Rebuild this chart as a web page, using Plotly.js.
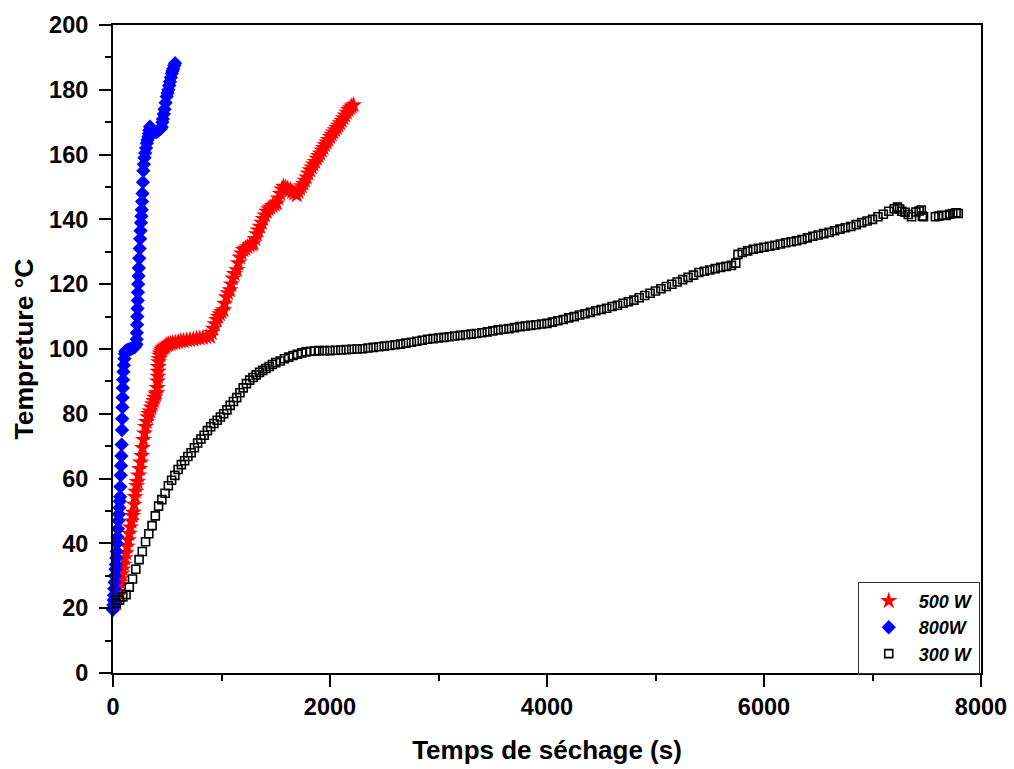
<!DOCTYPE html>
<html>
<head>
<meta charset="utf-8">
<script src="https://cdn.plot.ly/plotly-3.0.1.min.js"></script>
<style>html,body{margin:0;padding:0;background:#fff;}#chart{width:1014px;height:769px;}</style>
</head>
<body>
<div id="chart"></div>
<script>
// 500 W series
const t500 = [30,38,46,54,62,70,80,90,100,110,120,130,140,150,160,170,180,187,195,203,210,218,225,235,245,255,265,272,280,290,300,310,320,330,341,352,365,375,385,395,403,408,411,414,416,418,421,425,430,434,442,450,460,470,482,495,510,530,550,575,600,625,650,680,710,740,770,800,830,860,895,910,925,940,956,970,985,1000,1018,1030,1045,1060,1079,1090,1105,1120,1141,1155,1170,1185,1202,1220,1240,1260,1280,1295,1310,1325,1340,1356,1370,1385,1400,1418,1435,1450,1470,1490,1510,1525,1540,1555,1571,1590,1610,1633,1650,1670,1694,1710,1725,1740,1756,1770,1785,1800,1817,1833,1848,1863,1880,1895,1910,1925,1940,1955,1970,1985,2002,2017,2032,2048,2063,2078,2094,2110,2125,2140,2156,2171,2186,2200,2217];
const T500 = [21.5,23.5,25,26.5,28,29,30.5,32,33.5,35.5,37,39,41,43,45,46.8,48.5,49.5,52,54.4,56,57.8,59,61,63,65,67,69.5,72,74,76,77.5,79,80,80.8,82,83,84,85,86,86.5,88,90,91.5,93,94.5,96,97,98,98.7,99.3,99.8,100.2,100.5,100.8,101.2,101.4,101.6,101.8,102,102.2,102.4,102.5,102.7,102.8,103,103.2,103.3,103.5,103.7,103.8,105,106.3,107.7,109,110,110.8,111.5,112,114,116,117.3,118.2,120,121.8,123.2,124.4,126.5,128.3,129.5,130.6,131,131.5,132,132.3,132.6,134,135.5,136.6,137.8,139,140.2,141.3,142.4,143.2,143.7,144.2,144.6,145,146.5,148,149.3,150.1,149.8,149.5,149.1,148.5,148,147.5,148.5,149.5,150.3,151.1,152,153,154.2,155.2,156.1,157,157.8,158.8,159.6,160.4,161.3,162.1,163,163.8,164.6,165.5,166.2,166.9,167.6,168.3,169,169.7,170.5,171.3,172.1,173,173.8,174.4,174.9,175.3];

// 800 W series
const t800 = [0,3,6,9,12,15,18,22,26,30,34,38,42,46,50,54,58,62,65,68,71,74,77,80,83,85,87,89,91,93,96,100,105,110,115,120,130,140,150,160,170,180,190,200,208,215,218,220,222,224,226,228,230,232,235,238,242,246,250,254,258,262,265,268,272,276,280,285,290,297,305,312,318,326,331,335,341,350,360,370,380,390,400,410,420,430,440,449,455,460,468,475,485,495,503,510,518,525,533,541,548,555,565,572];
const T800 = [19.5,21,22.5,24,26,28,30,32,33.5,35.5,37.5,40,42,44.5,47,49,51,53,54.4,57.5,61,64,67,70.5,75,78.5,82,85,88,90.5,93,95,97,98.5,99.2,99.5,99.6,99.8,99.9,100,100.1,100.3,100.5,100.6,101,101.5,103,105,107.5,110,112.5,115,117.5,120,122.5,125,128,131,134,136.5,139,141,143,145.5,148,151.5,155,157,159,160.5,162,163.5,164.5,165.5,166.5,167.5,168.6,168,167.5,167.3,167,167,167,167.2,167.5,167.8,168,168.5,170,171,172.5,174,176,177.9,179,180,181.3,182.5,183.8,185,185.8,186.5,187.5,188.2];

// 300 W series
const t300 = [30,60,90,120,150,180,210,240,270,300,330,360,390,420,450,480,510,540,570,600,630,660,690,720,750,780,810,840,870,900,930,960,990,1020,1050,1080,1110,1140,1170,1200,1230,1260,1290,1320,1350,1380,1410,1440,1470,1500,1540,1580,1620,1660,1700,1740,1780,1820,1860,1900,1950,2000,2050,2100,2150,2200,2250,2300,2350,2400,2450,2500,2550,2600,2650,2700,2750,2800,2850,2900,2950,3000,3050,3100,3150,3200,3250,3300,3350,3400,3450,3500,3550,3600,3650,3700,3750,3800,3850,3900,3950,4000,4050,4100,4150,4200,4250,4300,4350,4400,4450,4500,4550,4600,4650,4700,4750,4800,4850,4900,4950,5000,5050,5100,5150,5200,5250,5300,5350,5400,5450,5500,5550,5600,5650,5700,5740,5760,5800,5850,5900,5950,6000,6050,6100,6150,6200,6250,6300,6350,6400,6450,6500,6550,6600,6650,6700,6750,6800,6850,6900,6950,7000,7050,7100,7150,7200,7230,7250,7270,7300,7330,7360,7400,7430,7450,7460,7470,7580,7610,7640,7680,7710,7740,7770,7790];
const T300 = [21.5,22.5,23.5,24.2,26.5,29,32,35,37.5,40.5,43,45.5,48.5,51.5,53.5,55.5,57.8,59.5,61,62.8,64.3,65.5,66.8,68,69.5,71,72.2,73.4,74.8,76,77,78,79,80,81.2,82.6,83.8,85,86.5,88,89.3,90.4,91.2,92,92.8,93.4,94,94.6,95.2,95.8,96.3,97,97.5,98,98.4,98.8,99.1,99.3,99.4,99.5,99.5,99.5,99.6,99.7,99.8,99.9,100,100.1,100.3,100.5,100.7,100.9,101.1,101.3,101.5,101.8,102.1,102.4,102.7,103,103.2,103.4,103.6,103.8,104,104.2,104.4,104.6,104.8,105,105.3,105.6,105.9,106.1,106.3,106.6,106.9,107.1,107.3,107.5,107.7,107.9,108.3,108.7,109.1,109.6,110,110.5,110.9,111.3,111.8,112.2,112.6,113.1,113.5,114.1,114.6,115.1,115.8,116.5,117.2,117.9,118.6,119.3,120,120.7,121.4,122.1,122.8,123.6,124,124.4,124.8,125.2,125.5,125.8,126.5,129.2,129.8,130.3,130.8,131.1,131.4,131.7,132,132.4,132.8,133.1,133.4,133.8,134.3,134.8,135.2,135.6,136,136.5,137,137.4,137.8,138.4,139,139.5,140,140.8,141.6,142.5,143.3,143.8,143.2,142.5,142.2,141.5,140.8,142.3,142.6,142.9,141,140.8,140.8,141,141.3,141.2,141.6,141.8,142,141.8];

const seriesNames = ['500 W', '800W', '300 W'];
const xTitle = 'Temps de séchage (s)';
const yTitle = 'Tempreture °C';

const FONT = 'Liberation Sans, Arial, sans-serif';

const traces = [
  {x: t500, y: T500, name: seriesNames[0], type: 'scatter', mode: 'markers', cliponaxis: false,
   marker: {symbol: 'star', size: 13, color: '#ff0000', line: {width: 0}}},
  {x: t800, y: T800, name: seriesNames[1], type: 'scatter', mode: 'markers', cliponaxis: false,
   marker: {symbol: 'diamond', size: 11, color: '#0000ff', line: {width: 0}}},
  {x: t300, y: T300, name: seriesNames[2], type: 'scatter', mode: 'markers', cliponaxis: false,
   marker: {symbol: 'square-open', size: 8, color: '#000000', line: {width: 1.6, color: '#000000'}}}
];

const axisCommon = {
  showgrid: false, zeroline: false, showline: true, linewidth: 2, linecolor: '#000',
  mirror: true, ticks: 'outside', ticklen: 12, tickwidth: 2, tickcolor: '#000',
  tickfont: {family: FONT, size: 23.5, color: '#000', weight: 'bold'}
};

const layout = {
  width: 1014, height: 769,
  margin: {l: 113, r: 33, t: 25, b: 96},
  paper_bgcolor: '#fff', plot_bgcolor: '#fff',
  showlegend: true,
  xaxis: Object.assign({}, axisCommon, {
    range: [0, 8000], tick0: 0, dtick: 2000,
    minor: {dtick: 1000, ticks: 'outside', ticklen: 6, tickwidth: 2, tickcolor: '#000', showgrid: false},
    title: {text: xTitle, font: {family: FONT, size: 26, color: '#000', weight: 'bold'}, standoff: 22}
  }),
  yaxis: Object.assign({}, axisCommon, {
    range: [0, 200], tick0: 0, dtick: 20, ticklabelstandoff: 6,
    minor: {dtick: 10, ticks: 'outside', ticklen: 6, tickwidth: 2, tickcolor: '#000', showgrid: false},
    title: {text: yTitle, font: {family: FONT, size: 26.5, color: '#000', weight: 'bold'}, standoff: 8}
  }),
  legend: {
    x: 0.858, y: 0.141, xanchor: 'left', yanchor: 'top',
    bgcolor: '#fff', bordercolor: '#333', borderwidth: 1,
    font: {family: FONT, size: 18, color: '#000', weight: 'bold', style: 'italic'},
    itemsizing: 'trace', itemwidth: 50
  }
};

Plotly.newPlot('chart', traces, layout, {displayModeBar: false, staticPlot: true});
</script>
</body>
</html>
